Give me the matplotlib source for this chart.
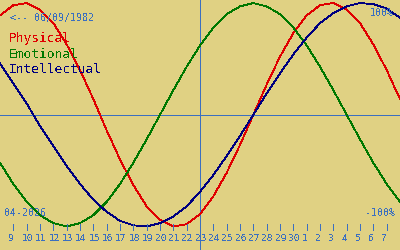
import matplotlib
matplotlib.use("Agg")
import matplotlib.pyplot as plt

# days from 8 April to 8 May 2026 (index 0 = 8 April)
day_idx = list(range(31))
tick_days = list(range(1, 30))
tick_labels = [str(d) for d in range(9, 31)] + [str(d) for d in range(1, 8)]
today = 15

physical = [0.89, 0.98, 1.00, 0.94, 0.82, 0.63, 0.40, 0.14, -0.14, -0.40,
            -0.63, -0.82, -0.94, -1.00, -0.98, -0.89, -0.73, -0.52, -0.27,
            0.00, 0.27, 0.52, 0.73, 0.89, 0.98, 1.00, 0.94, 0.82, 0.63, 0.40, 0.14]
emotional = [-0.43, -0.62, -0.78, -0.90, -0.97, -1.00, -0.97, -0.90, -0.78, -0.62,
             -0.43, -0.22, 0.00, 0.22, 0.43, 0.62, 0.78, 0.90, 0.97, 1.00,
             0.97, 0.90, 0.78, 0.62, 0.43, 0.22, 0.00, -0.22, -0.43, -0.62, -0.78]
intellectual = [0.46, 0.28, 0.10, -0.10, -0.28, -0.46, -0.62, -0.76, -0.87, -0.95,
                -0.99, -1.00, -0.97, -0.91, -0.82, -0.69, -0.54, -0.37, -0.19,
                0.00, 0.19, 0.37, 0.54, 0.69, 0.82, 0.91, 0.97, 1.00, 0.99, 0.95, 0.87]

bg = "#e0d183"
blue = "#3b6fc0"
plt.rcParams["text.antialiased"] = False
mono = "DejaVu Sans Mono"
lw = 0.6

fig = plt.figure(figsize=(4, 2.5), dpi=100)
fig.patch.set_facecolor(bg)
ax = fig.add_axes([0, 0, 1, 1])
ax.set_facecolor(bg)
ax.set_xlim(0, 30)
ax.set_ylim(-1.211, 1.027)
ax.axis("off")

ax.axhline(0, color=blue, lw=lw, antialiased=False)
ax.axvline(today, color=blue, lw=lw, antialiased=False)

ax.plot(day_idx, physical, color="#e00000", lw=lw, antialiased=False)
ax.plot(day_idx, emotional, color="#007800", lw=lw, antialiased=False)
ax.plot(day_idx, intellectual, color="#000080", lw=lw, antialiased=False)

# day ticks along the bottom
xt = ax.get_xaxis_transform()
ax.vlines(tick_days, 0.08, 0.104, transform=xt, color=blue, lw=lw, antialiased=False)
for d, lab in zip(tick_days, tick_labels):
    ax.text(d - 0.37, 1 - 241 / 250, lab, transform=xt, ha="left", va="baseline",
            color=blue, fontsize=6.8, family=mono)

def px_text(x, y, s, color, size, ha="left"):
    fig.text(x / 400, 1 - y / 250, s, ha=ha, va="baseline", color=color,
             fontsize=size, family=mono)

px_text(10, 21, "<-- 06/09/1982", blue, 7.2)
px_text(9, 42, "Physical", "#e00000", 9.3)
px_text(9, 57.5, "Emotional", "#007800", 9.3)
px_text(9, 73, "Intellectual", "#000080", 9.3)
px_text(394, 16, "100%", blue, 7.2, ha="right")
px_text(395, 216, "-100%", blue, 7.2, ha="right")
px_text(4, 216, "04-2026", blue, 7.2)

fig.savefig("out.png", dpi=100, facecolor=bg)
